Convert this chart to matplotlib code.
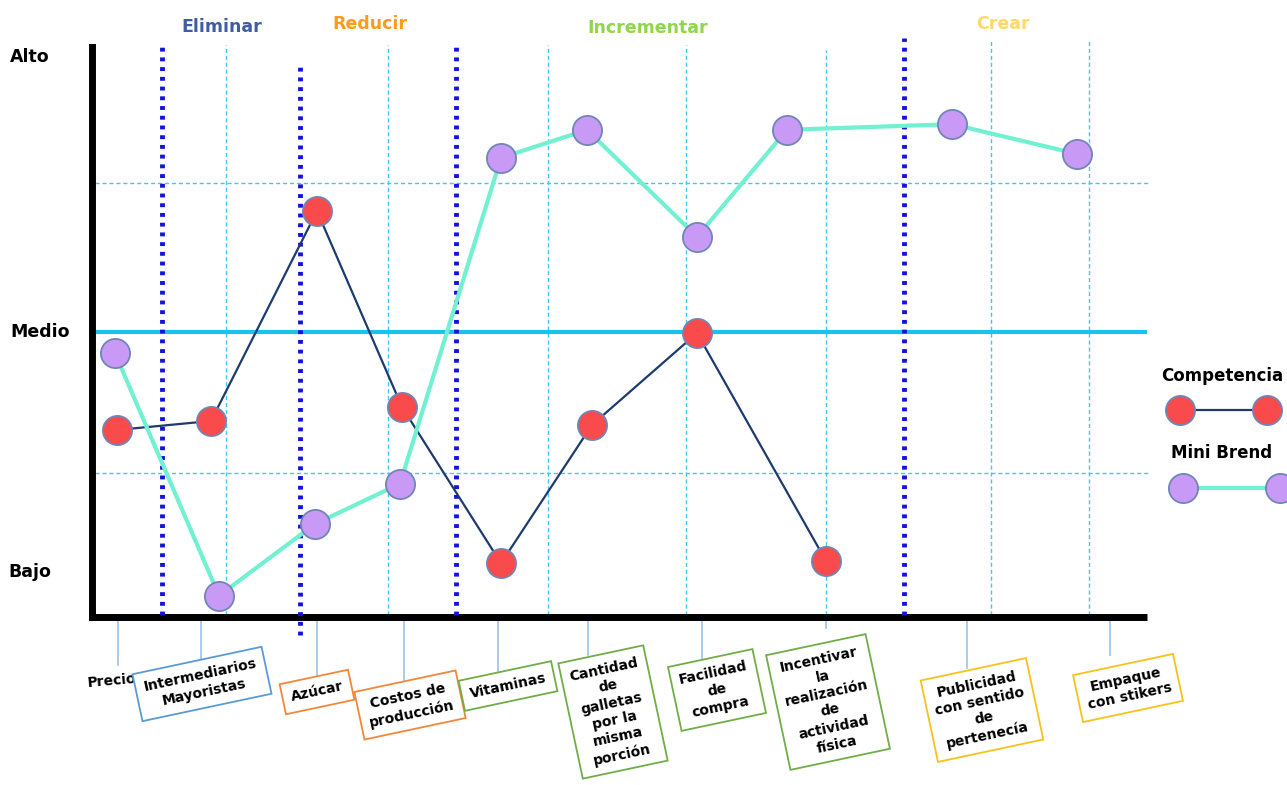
import matplotlib
matplotlib.use("Agg")
from matplotlib import pyplot as plt

plt.rcParams['font.family'] = ['DejaVu Sans']

# Datos del lienzo estratégico (escala 0 = eje inferior, 10 = "Alto")
factores = ["Precio", "Intermediarios\nMayoristas", "Azúcar", "Costos de\nproducción",
            "Vitaminas", "Cantidad\nde\ngalletas\npor la\nmisma\nporción",
            "Facilidad\nde\ncompra", "Incentivar\nla\nrealización\nde\nactividad\nfísica",
            "Publicidad\ncon sentido\nde\npertenecía", "Empaque\ncon stikers"]
mini_brend = [4.71, 0.38, 1.66, 2.38, 8.20, 8.70, 6.79, 8.70, 8.80, 8.27]
competencia = [3.34, 3.50, 7.25, 3.75, 0.96, 3.43, 5.07, 1.00]
niveles = ["Alto", "Medio", "Bajo"]
valores_niveles = [10.0, 5.09, 0.80]
acciones = ["Eliminar", "Reducir", "Incrementar", "Crear"]

# posiciones (px) de cada factor en el lienzo
x_mini = [115, 219, 315, 400, 501, 587, 697, 787, 952, 1077]
x_comp = [117, 211, 317, 402, 501, 592, 697, 826]

W, H = 1287, 785
fig = plt.figure(figsize=(W / 100, H / 100), dpi=100)
ax = fig.add_axes([92 / W, (H - 617) / H, (1147 - 92) / W, (617 - 47) / H])
ax.set_xlim(92, 1147)
ax.set_ylim(0, (617 - 47) / 56)


def py(p):
    # pixel vertical -> unidades del eje
    return (617 - p) / 56


for s in ["top", "right"]:
    ax.spines[s].set_visible(False)
ax.spines["left"].set_linewidth(5)
ax.spines["bottom"].set_linewidth(5)
ax.spines["bottom"].set_capstyle("butt")
ax.set_xticks([])
ax.set_yticks([])

# rejilla punteada celeste
for xv, top in zip([226, 388, 548, 686, 826, 991, 1089], [45, 45, 45, 45, 50, 40, 40]):
    ax.plot([xv, xv], [py(615), py(top)], color="#3fc8f0", lw=1, ls=(0, (3, 2)), clip_on=False, zorder=1)
for yv in [183, 473]:
    ax.plot([95, 1150], [py(yv), py(yv)], color="#3fc8f0", lw=1, ls=(0, (3, 2)), clip_on=False, zorder=1)

# línea de nivel medio
ax.plot([92, 1147], [valores_niveles[1], valores_niveles[1]], color="#19c3ec", lw=3, zorder=2)

# divisores de acciones
for xv, y0, y1 in [(162, 615, 45), (300, 635, 62), (456, 615, 45), (904, 615, 38)]:
    ax.plot([xv, xv], [py(y0), py(y1)], color="#1414d8", lw=3.5, ls=(0, (0.8, 1.2)),
            clip_on=False, zorder=3)

edge = "#6f86b8"
ms = 21
ax.plot(x_comp, competencia, color="#1d3b6e", lw=1.6, zorder=4)
ax.plot(x_comp, competencia, ls="none", marker="o", ms=ms, mfc="#f94b4b", mec=edge, mew=1.3, zorder=5)
ax.plot(x_mini, mini_brend, color="#72f0d2", lw=3, zorder=4)
ax.plot(x_mini, mini_brend, ls="none", marker="o", ms=ms, mfc="#c99af5", mec=edge, mew=1.3, zorder=5)

# niveles
for txt, v, xc in zip(niveles, valores_niveles, [30, 40, 30]):
    ax.text(xc, v, txt, ha="center", va="center", fontsize=12.5, fontweight="bold", clip_on=False)

# títulos de acciones
for txt, xc, yc, col in zip(acciones, [222, 370, 648, 1003], [27, 24, 28, 24],
                            ["#3e5da6", "#ff9a1a", "#8fd64a", "#ffd866"]):
    ax.text(xc, py(yc), txt, ha="center", va="center", fontsize=12.5, fontweight="bold", color=col, clip_on=False)

# etiquetas de factores
tick_x = [118, 201, 317, 404, 498, 588, 702, 826, 967, 1110]
tick_end = [665, 668, 680, 683, 675, 655, 660, 628, 668, 655]
lab_xy = [(112, 681), (202, 684), (317, 692), (410, 705), (508, 686), (613, 712),
          (717, 690), (828, 702), (982, 710), (1128, 688)]
box_col = [None, "#5b9bd5", "#f0883a", "#f0883a", "#70ad47", "#70ad47", "#70ad47",
           "#70ad47", "#f8c21c", "#f8c21c"]
for txt, tx, te, (lx, ly), bc in zip(factores, tick_x, tick_end, lab_xy, box_col):
    ax.plot([tx, tx], [py(621), py(te)], color="#9cc3e6", lw=1.2, clip_on=False)
    bbox = None if bc is None else dict(boxstyle="square,pad=0.6", fc="white", ec=bc, lw=1.3)
    ax.text(lx, py(ly), txt, ha="center", va="center", fontsize=10, fontweight="bold",
            rotation=12 if bc else 5, rotation_mode="anchor", linespacing=1.3,
            multialignment="center", bbox=bbox, clip_on=False, zorder=6)

# leyenda
ax.text(1222, py(376), "Competencia", ha="center", va="center", fontsize=12, fontweight="bold", clip_on=False)
ax.plot([1180, 1267], [py(410), py(410)], color="#1d3b6e", lw=1.6, clip_on=False)
ax.plot([1180, 1267], [py(410), py(410)], ls="none", marker="o", ms=ms, mfc="#f94b4b",
        mec=edge, mew=1.3, clip_on=False)
ax.text(1222, py(453), "Mini Brend", ha="center", va="center", fontsize=12, fontweight="bold", clip_on=False)
ax.plot([1183, 1280], [py(488), py(488)], color="#72f0d2", lw=3, clip_on=False)
ax.plot([1183, 1280], [py(488), py(488)], ls="none", marker="o", ms=ms, mfc="#c99af5",
        mec=edge, mew=1.3, clip_on=False)

fig.savefig("out.png", dpi=100)
